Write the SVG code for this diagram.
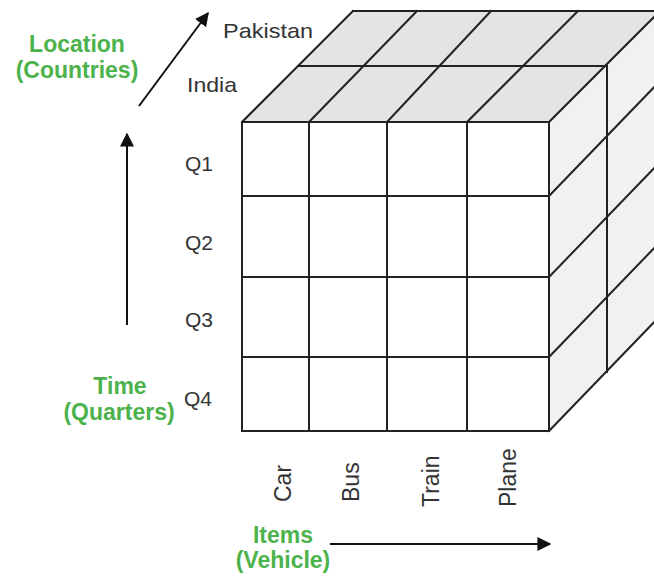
<svg xmlns="http://www.w3.org/2000/svg" width="654" height="577" viewBox="0 0 654 577">
  <defs>
    <style>
      .edge { stroke: #222; stroke-width: 2; fill: none; stroke-linecap: square; }
      .top { fill: #e4e4e4; }
      .side { fill: #f1f1f1; }
      .front { fill: #ffffff; }
      .lbl { font-family: "Liberation Sans", Arial, sans-serif; font-size: 21px; fill: #333; }
      .rot { font-family: "Liberation Sans", Arial, sans-serif; font-size: 23px; fill: #333; }
      .axis { font-family: "Liberation Sans", Arial, sans-serif; font-size: 23px; font-weight: bold; fill: #4cb24c; text-anchor: middle; }
      .conn { stroke: #111; stroke-width: 2; fill: none; }
    </style>
    <marker id="ah" viewBox="0 0 10 10" refX="9" refY="5" markerWidth="7" markerHeight="7" markerUnits="strokeWidth" orient="auto">
      <path d="M0,0 L10,5 L0,10 Z" fill="#111"/>
    </marker>
  </defs>
  <rect width="654" height="577" fill="#fff"/>

  <g id="cube">
    <polygon class="top" points="242,122 353,11 660,11 549,122"/>
    <polygon class="side" points="549,122 660,11 660,316 549,431"/>
    <rect class="front" x="242" y="122" width="307" height="309"/>
    <line class="edge" x1="242" y1="122" x2="353" y2="11"/>
    <line class="edge" x1="353" y1="11" x2="660" y2="11"/>
    <line class="edge" x1="298" y1="66" x2="605" y2="66"/>
    <line class="edge" x1="309" y1="122" x2="417" y2="11"/>
    <line class="edge" x1="387" y1="122" x2="491" y2="11"/>
    <line class="edge" x1="467" y1="122" x2="578" y2="11"/>
    <line class="edge" x1="549" y1="122" x2="660" y2="11"/>
    <line class="edge" x1="607" y1="66" x2="607" y2="372"/>
    <line class="edge" x1="549" y1="196" x2="660" y2="81"/>
    <line class="edge" x1="549" y1="277" x2="660" y2="162"/>
    <line class="edge" x1="549" y1="357" x2="660" y2="242"/>
    <line class="edge" x1="549" y1="431" x2="660" y2="316"/>
    <rect class="edge" x="242" y="122" width="307" height="309"/>
    <line class="edge" x1="309" y1="122" x2="309" y2="431"/>
    <line class="edge" x1="387" y1="122" x2="387" y2="431"/>
    <line class="edge" x1="467" y1="122" x2="467" y2="431"/>
    <line class="edge" x1="242" y1="196" x2="549" y2="196"/>
    <line class="edge" x1="242" y1="277" x2="549" y2="277"/>
    <line class="edge" x1="242" y1="357" x2="549" y2="357"/>
  </g>

  <g id="location-labels">
    <text class="lbl" x="223" y="38" textLength="90" lengthAdjust="spacingAndGlyphs">Pakistan</text>
    <text class="lbl" x="187" y="92" textLength="50" lengthAdjust="spacingAndGlyphs">India</text>
  </g>

  <g id="time-labels">
    <text class="lbl" x="185" y="171">Q1</text>
    <text class="lbl" x="185" y="250">Q2</text>
    <text class="lbl" x="185" y="327">Q3</text>
    <text class="lbl" x="184" y="406">Q4</text>
  </g>

  <g id="item-labels">
    <text class="rot" transform="translate(291,502) rotate(-90)">Car</text>
    <text class="rot" transform="translate(359,502) rotate(-90)">Bus</text>
    <text class="rot" transform="translate(439,507) rotate(-90)">Train</text>
    <text class="rot" transform="translate(516,507) rotate(-90)">Plane</text>
  </g>

  <g id="axis-location">
    <text class="axis" x="77" y="52">Location</text>
    <text class="axis" x="77" y="78">(Countries)</text>
  </g>
  <g id="axis-time">
    <text class="axis" x="120" y="394">Time</text>
    <text class="axis" x="119" y="420">(Quarters)</text>
  </g>
  <g id="axis-items">
    <text class="axis" x="283" y="543">Items</text>
    <text class="axis" x="283" y="568">(Vehicle)</text>
  </g>

  <g id="connectors">
    <line class="conn" x1="139" y1="106" x2="208" y2="13" marker-end="url(#ah)"/>
    <line class="conn" x1="127" y1="325" x2="127" y2="134" marker-end="url(#ah)"/>
    <line class="conn" x1="330" y1="544" x2="550" y2="544" marker-end="url(#ah)"/>
  </g>
</svg>
